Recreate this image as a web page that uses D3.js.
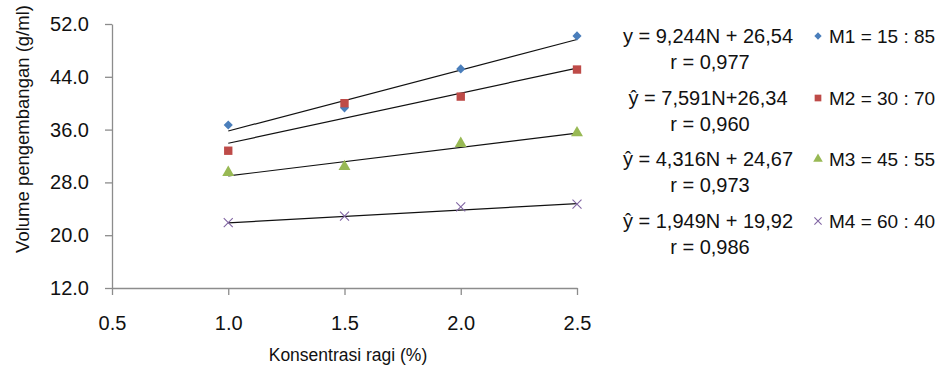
<!DOCTYPE html>
<html>
<head>
<meta charset="utf-8">
<script src="https://cdn.jsdelivr.net/npm/d3@7"></script>
<style>
  html, body { margin: 0; padding: 0; background: #fff; }
  svg { display: block; font-family: "Liberation Sans", Arial, sans-serif; }
</style>
</head>
<body>
<svg id="chart" width="943" height="368"></svg>
<script>
// ---- data ----
const concentrations = [1.0, 1.5, 2.0, 2.5];
const seriesNames = ["M1 = 15 : 85", "M2 = 30 : 70", "M3 = 45 : 55", "M4 = 60 : 40"];
const m1Values = [36.7, 39.3, 45.2, 50.2];
const m2Values = [32.8, 40.0, 41.0, 45.1];
const m3Values = [29.5, 30.4, 33.9, 35.5];
const m4Values = [21.9, 22.9, 24.3, 24.7];
const slopes = [9.244, 7.591, 4.316, 1.949];
const intercepts = [26.54, 26.34, 24.67, 19.92];
const equationLabels = ["y = 9,244N + 26,54", "\u0177 = 7,591N+26,34", "\u0177 = 4,316N + 24,67", "\u0177 = 1,949N + 19,92"];
const rLabels = ["r = 0,977", "r = 0,960", "r = 0,973", "r = 0,986"];
const xTicks = [0.5, 1.0, 1.5, 2.0, 2.5];
const yTicks = [12, 20, 28, 36, 44, 52];
const xTitle = "Konsentrasi ragi (%)";
const yTitle = "Volume pengembangan (g/ml)";

const allValues = [m1Values, m2Values, m3Values, m4Values];
const colors = ["#4a7ebb", "#be4b48", "#98b954", "#8064a2"];

const svg = d3.select("#chart");
const x = d3.scaleLinear().domain([0.5, 2.5]).range([112, 577]);
const y = d3.scaleLinear().domain([12, 52]).range([288, 24]);
const axisColor = "#8c8c8c";

// axes
const gx = svg.append("g").attr("transform", `translate(0,${y(12)})`)
  .call(d3.axisBottom(x).tickValues(xTicks).tickFormat(d3.format(".1f")).tickSize(7).tickSizeOuter(0).tickPadding(21));
const gy = svg.append("g").attr("transform", `translate(${x(0.5)},0)`)
  .call(d3.axisLeft(y).tickValues(yTicks).tickFormat(d3.format(".1f")).tickSize(7).tickSizeOuter(0).tickPadding(16));
[gx, gy].forEach(g => {
  g.select(".domain").attr("stroke", axisColor).attr("stroke-width", 1.3);
  g.selectAll(".tick line").attr("stroke", axisColor).attr("stroke-width", 1.3);
  g.selectAll(".tick text").attr("fill", "#111").style("font-size", "20px").style("font-family", "Liberation Sans, Arial, sans-serif");
});

// trend lines
allValues.forEach((vals, i) => {
  const x0 = concentrations[0], x1 = concentrations[concentrations.length - 1];
  svg.append("line")
    .attr("x1", x(x0)).attr("y1", y(slopes[i] * x0 + intercepts[i]))
    .attr("x2", x(x1)).attr("y2", y(slopes[i] * x1 + intercepts[i]))
    .attr("stroke", "#111").attr("stroke-width", 1.2);
});

// markers
function drawMarker(g, i, cx, cy, scale) {
  if (i === 3) {
    const s = 4.5 * scale;
    g.append("path")
      .attr("d", `M${cx - s},${cy - s}L${cx + s},${cy + s}M${cx - s},${cy + s}L${cx + s},${cy - s}`)
      .attr("stroke", colors[i]).attr("stroke-width", 1.1).attr("fill", "none");
  } else if (i === 0) {
    g.append("path")
      .attr("d", d3.symbol().type(d3.symbolSquare).size(42 * scale * scale)())
      .attr("transform", `translate(${cx},${cy}) rotate(45)`)
      .attr("fill", colors[i]);
  } else if (i === 1) {
    g.append("path")
      .attr("d", d3.symbol().type(d3.symbolSquare).size(70 * scale * scale)())
      .attr("transform", `translate(${cx},${cy})`)
      .attr("fill", colors[i]);
  } else {
    g.append("path")
      .attr("d", d3.symbol().type(d3.symbolTriangle).size(62 * scale * scale)())
      .attr("transform", `translate(${cx},${cy})`)
      .attr("fill", colors[i]);
  }
}
allValues.forEach((vals, i) => {
  const g = svg.append("g");
  vals.forEach((v, j) => drawMarker(g, i, x(concentrations[j]), y(v), 1));
});

// axis titles
svg.append("text").attr("x", 348).attr("y", 361).attr("text-anchor", "middle")
  .style("font-size", "17.5px").attr("fill", "#111").text(xTitle);
svg.append("text").attr("transform", "translate(29,129) rotate(-90)").attr("text-anchor", "middle")
  .style("font-size", "18.5px").attr("fill", "#111").text(yTitle);

// legend
const legendY = [36, 98, 159, 221];
seriesNames.forEach((name, i) => {
  const cy = legendY[i];
  svg.append("text").attr("x", 708).attr("y", cy).attr("dy", "0.36em").attr("text-anchor", "middle")
    .style("font-size", "20px").attr("fill", "#111").text(equationLabels[i]);
  svg.append("text").attr("x", 710).attr("y", cy + 26).attr("dy", "0.36em").attr("text-anchor", "middle")
    .style("font-size", "20px").attr("fill", "#111").text(rLabels[i]);
  drawMarker(svg.append("g"), i, 818, cy, 0.8);
  svg.append("text").attr("x", 829).attr("y", cy).attr("dy", "0.36em")
    .style("font-size", "19px").attr("fill", "#111").text(name);
});
</script>
</body>
</html>
